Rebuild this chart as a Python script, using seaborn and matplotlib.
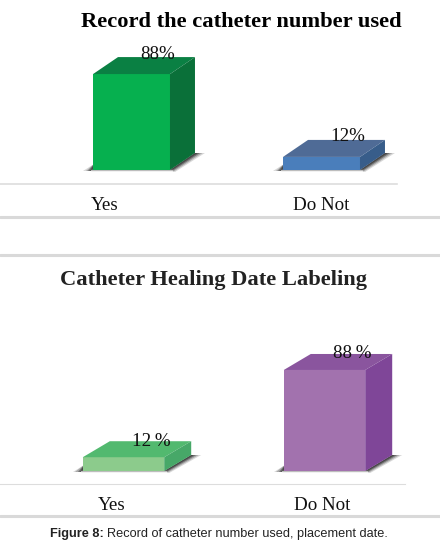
import matplotlib
matplotlib.use('Agg')
import matplotlib.pyplot as plt
from matplotlib.lines import Line2D
from matplotlib.patches import Polygon
import pandas as pd
import seaborn as sns

W, H = 440, 544

# data
categories = ["Yes", "Do Not"]
record_values = [88, 12]
healing_values = [12, 88]
record_labels = ["88%", "12%"]
healing_labels = ["12\u2009%", "88\u2009%"]

# colours: front, top, side
record_colors = [("#06B04F", "#0A8043", "#0A7039"), ("#4A7EBB", "#4F6B96", "#385D8A")]
healing_colors = [("#8CCB8C", "#52B96F", "#47A868"), ("#A272AE", "#8A559E", "#7F4698")]

sns.set_theme(style="white")
plt.rcParams['font.family'] = ['Liberation Serif', 'DejaVu Sans']

fig = plt.figure(figsize=(W / 100, H / 100), dpi=100, facecolor="white")


def px_axes(left, right, top, bottom):
    return fig.add_axes([left / W, 1 - bottom / H, (right - left) / W, (bottom - top) / H])


def draw_panel(ax, values, colors, labels, tick_pos, xlim, ylim, depth, label_off, spine_lw):
    df = pd.DataFrame({"cat": categories, "val": values})
    sns.barplot(data=df, x="cat", y="val", hue="cat", ax=ax, width=0.405,
                palette=[c[0] for c in colors], legend=False, saturation=1,
                edgecolor="none", linewidth=0)
    ax.set_xlim(*xlim)
    ax.set_ylim(*ylim)
    ax.set_xlabel("")
    ax.set_ylabel("")
    ax.set_yticks([])
    ax.set_xticks(tick_pos)
    ax.set_xticklabels(categories, fontsize=13.7, color="#111111")
    ax.tick_params(axis="x", length=0, pad=9)
    for s in ["top", "left", "right"]:
        ax.spines[s].set_visible(False)
    ax.spines["bottom"].set_color("#DDDDDD")
    ax.spines["bottom"].set_linewidth(spine_lw)
    ax.patch.set_alpha(0)

    # pixels to data, for the fake 3d faces
    ux = (xlim[1] - xlim[0]) / (ax.get_position().width * W)
    uy = (ylim[1] - ylim[0]) / (ax.get_position().height * H)
    dx, dy = depth[0] * ux, depth[1] * uy

    for bar, col, lab in zip(ax.patches, colors, labels):
        x0, x1 = bar.get_x(), bar.get_x() + bar.get_width()
        h = bar.get_height()
        # floor shadows, light band first then darker towards the bar
        for k, shade in [(1.0, "#D8D8D8"), (0.75, "#A8A8A8"), (0.5, "#707070"), (0.28, "#484848")]:
            ax.add_patch(Polygon([(x1, 0), (x1 + dx, dy), (x1 + dx + 10 * k * ux, dy),
                                  (x1 + 5 * k * ux, -2 * k * uy)],
                                 closed=True, fc=shade, ec="none", zorder=1))
            ax.add_patch(Polygon([(x0 - 10 * k * ux, -0.5 * uy), (x0 + ux, -0.5 * uy), (x0 + ux, 6 * uy)],
                                 closed=True, fc=shade, ec="none", zorder=1))
        ax.plot([x0 - 2 * ux, x1 + 2 * ux], [-0.4 * uy, -0.4 * uy], color="#BDBDBD", lw=1.0, zorder=1)
        bar.set_zorder(3)
        ax.add_patch(Polygon([(x0, h), (x1, h), (x1 + dx, h + dy), (x0 + dx, h + dy)],
                             closed=True, fc=col[1], ec="none", zorder=3))
        ax.add_patch(Polygon([(x1, 0), (x1 + dx, dy), (x1 + dx, h + dy), (x1, h)],
                             closed=True, fc=col[2], ec="none", zorder=3))
        ax.annotate(lab, xy=(bar.get_x() + bar.get_width() / 2, h),
                    xytext=(label_off[0] * 0.72, label_off[1] * 0.72), textcoords="offset points",
                    ha="center", va="center", fontsize=13.7, color="#111111", zorder=5)


ax1 = px_axes(0, 397, 40, 184)
draw_panel(ax1, record_values, record_colors, record_labels,
           tick_pos=[-0.14, 1.0], xlim=(-131.5 / 190, 265.5 / 190),
           ylim=(-14 / 1.09, 130 / 1.09), depth=(25, 17), label_off=(26.5, 20), spine_lw=1.2)

ax2 = px_axes(0, 405, 310, 484)
draw_panel(ax2, healing_values, healing_colors, healing_labels,
           tick_pos=[-0.06, 0.99], xlim=(-123.5 / 201, 281.5 / 201),
           ylim=(-13 / 1.148, 161 / 1.148), depth=(27, 16), label_off=(27.5, 16), spine_lw=0.8)

# separators between panels
for y in [217, 254.5, 516]:
    fig.add_artist(Line2D([0, 1], [1 - y / H] * 2, color="#D9D9D9", lw=2.2))

# titles
fig.text(241 / W, 1 - 22 / H, "Record the catheter number used", ha="center", va="center",
         fontsize=16.2, fontweight="bold", color="black")
fig.text(213 / W, 1 - 279.5 / H, "Catheter Healing Date Labeling", ha="center", va="center",
         fontsize=16.2, fontweight="bold", color="#222222")

# caption, bold lead in then the rest
lead = fig.text(50 / W, 1 - 533.5 / H, "Figure 8:", ha="left", va="center", fontsize=9.2,
                fontweight="bold", family="Liberation Sans", color="#222222")
fig.canvas.draw()
box = lead.get_window_extent()
fig.text((box.x1 + 3) / W, 1 - 533.5 / H, "Record of catheter number used, placement date.",
         ha="left", va="center", fontsize=9.2, family="Liberation Sans", color="#222222")

fig.savefig("out.png", dpi=100, facecolor="white")
